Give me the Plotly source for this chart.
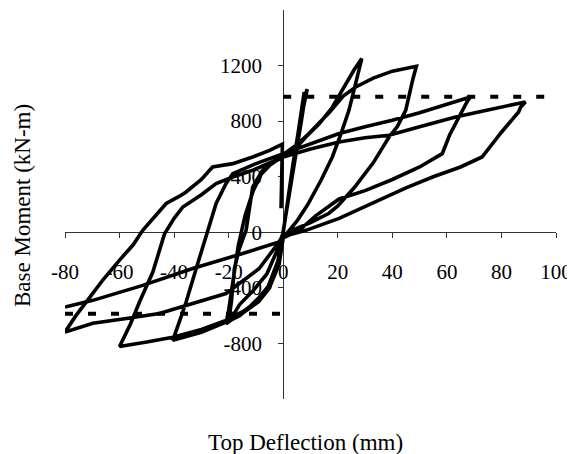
import plotly.graph_objects as go

# ---------------- data ----------------
# main hysteresis path: top deflection (mm) and base moment (kN-m)
deflection = [
    0, 1.5, 3.5, 5.5, 7.3, 8.8,
    8.2, 6.8, 5, 3, 1, -0.5, -2, -5, -9, -14, -19,
    -16, -11, -6, -2, 0, 2.5, 4.5, 6.2, 7.7,
    6.8, 4.5, 2, 0, -2, -5.5, -11, -16, -20,
    -19, -17.9, -16.1, -13.6, -11.2, -7.6, -3, 0, 3.4, 8.3, 13.2, 18, 22.5, 26, 28.8,
    28.2, 26.5, 24.1, 21, 18, 14, 9, 5, 2.2, 0, -1.5, -5, -12.4, -21,
    -20, -18.5, -16.5, -14, -11, -8, -4, 0, 5, 9.5, 16.8, 22, 26.6, 33, 40, 48.8,
    47.5, 44.9, 41.8, 38.8, 33, 26, 20, 16.8, 10, 3.3, 0, -1.5, -5.1, -12.4, -21, -30, -40.5,
    -38, -35.6, -31.9, -28.3, -26, -24.6, -21, -18.5, -10, 0, 10, 20.5, 30, 40, 50, 60, 68.6,
    67.4, 64.4, 61, 58.3, 50, 40, 30, 20.5, 12, 5.9, 0, -1.5, -5.1, -12.4, -21, -30, -40.5, -50, -60,
    -56, -52.7, -47.8, -43.5, -40, -36.8, -30, -24.6, -18.5, -11.2, -5, 0, 10, 20.5, 30, 38.8, 50, 63.2, 75, 84, 88.8,
    87, 86.3, 80, 72.9, 65, 55, 45, 35, 20.5, 8.3, 0, -8.8, -21, -33.2, -45.4, -57.5, -69.8, -80,
    -79.4, -76, -71, -66, -60, -55, -51.5, -47, -42.9, -38, -35.6, -30, -25.9, -18.5, -11.2, -5, -0.3,
    -0.8,
]
moment = [
    0, 220, 480, 720, 900, 1030,
    1000, 820, 600, 380, 120, -60, -230, -400, -500, -570, -620,
    -520, -420, -300, -120, 0, 330, 560, 780, 1010,
    880, 560, 230, 0, -210, -390, -520, -600, -640,
    -500, -261, -117, 14, 326, 446, 510, 542, 580, 686, 780, 900, 1050, 1170, 1250,
    1200, 1060, 878, 700, 542, 380, 200, 80, 14, -40, -225, -394, -538, -658,
    -560, -350, -100, 120, 300, 420, 500, 560, 630, 713, 860, 980, 1046, 1110, 1160, 1195,
    1100, 878, 760, 686, 500, 320, 190, 137, 70, 14, -40, -230, -400, -545, -646, -720, -778,
    -640, -502, -261, -22, 120, 207, 350, 422, 494, 566, 640, 711, 760, 806, 860, 920, 974,
    940, 830, 700, 566, 470, 380, 300, 240, 120, 14, -40, -230, -400, -545, -634, -700, -755, -790, -822,
    -660, -502, -286, -10, 100, 182, 270, 350, 398, 446, 500, 542, 600, 650, 680, 698, 760, 830, 880, 915, 938,
    900, 866, 720, 542, 470, 400, 320, 230, 100, 14, -30, -261, -441, -513, -585, -621, -655, -718,
    -700, -600, -470, -340, -200, -90, 14, 120, 207, 260, 290, 380, 470, 494, 542, 590, 635,
    173,
]

# last push to -80 mm
push_deflection = [0, -1.5, -14.9, -33.2, -51.5, -69.8, -80]
push_moment = [-20, -70, -153, -261, -382, -490, -538]

# yield-moment reference lines
yield_pos_x = [0, 100]
yield_pos_m = [975, 975]
yield_neg_x = [-80, 0]
yield_neg_m = [-586, -586]

x_ticks = [-80, -60, -40, -20, 0, 20, 40, 60, 80, 100]
x_tick_text = ["-80", "-60", "-40", "-20", "0", "20", "40", "60", "80", "100"]
y_ticks = [-800, -400, 0, 400, 800, 1200]
y_tick_text = ["-800", "-400", "0", "400", "800", "1200"]
x_range = [-80, 100]
y_range = [-1200, 1600]

# ---------------- figure ----------------
FONT = "Liberation Serif"
fig = go.Figure()

curve_style = dict(color="black", width=3.6)
fig.add_trace(go.Scatter(x=deflection, y=moment, mode="lines",
                         line=curve_style, showlegend=False))
fig.add_trace(go.Scatter(x=push_deflection, y=push_moment, mode="lines",
                         line=curve_style, showlegend=False))

dash_style = dict(color="black", width=4, dash="8px,15px")
fig.add_trace(go.Scatter(x=yield_pos_x, y=yield_pos_m, mode="lines",
                         line=dash_style, showlegend=False))
fig.add_trace(go.Scatter(x=yield_neg_x, y=yield_neg_m, mode="lines",
                         line=dash_style, showlegend=False))

x_cross = (0 - y_range[0]) / (y_range[1] - y_range[0])
y_cross = (0 - x_range[0]) / (x_range[1] - x_range[0])

axis_common = dict(
    showgrid=False, zeroline=False, showline=True,
    linecolor="#333", linewidth=1, ticks="outside", ticklen=5,
    tickcolor="#333", tickwidth=1, anchor="free", automargin=False,
    tickfont=dict(family=FONT, size=21, color="black"),
    layer="below traces",
)

# the page body adds an 8px offset, so the figure is sized 8px smaller
fig.update_layout(
    width=567, height=446, autosize=False,
    margin=dict(l=57, r=19, t=2, b=55),
    paper_bgcolor="white", plot_bgcolor="white",
    xaxis=dict(range=x_range, tickvals=x_ticks, ticktext=x_tick_text,
               position=x_cross, ticklabelstandoff=16, **axis_common),
    yaxis=dict(range=y_range, tickvals=y_ticks, ticktext=y_tick_text,
               position=y_cross, ticklabelstandoff=12, **axis_common),
    annotations=[
        dict(text="Base Moment (kN-m)", xref="paper", yref="paper",
             x=-0.0876, y=0.4987, textangle=-90, showarrow=False,
             xanchor="center", yanchor="middle",
             font=dict(family=FONT, size=23, color="black")),
        dict(text="Top Deflection (mm)", xref="paper", yref="paper",
             x=0.4908, y=-0.1131, showarrow=False,
             xanchor="center", yanchor="middle",
             font=dict(family=FONT, size=23, color="black")),
    ],
)

fig.write_html("out.html")
